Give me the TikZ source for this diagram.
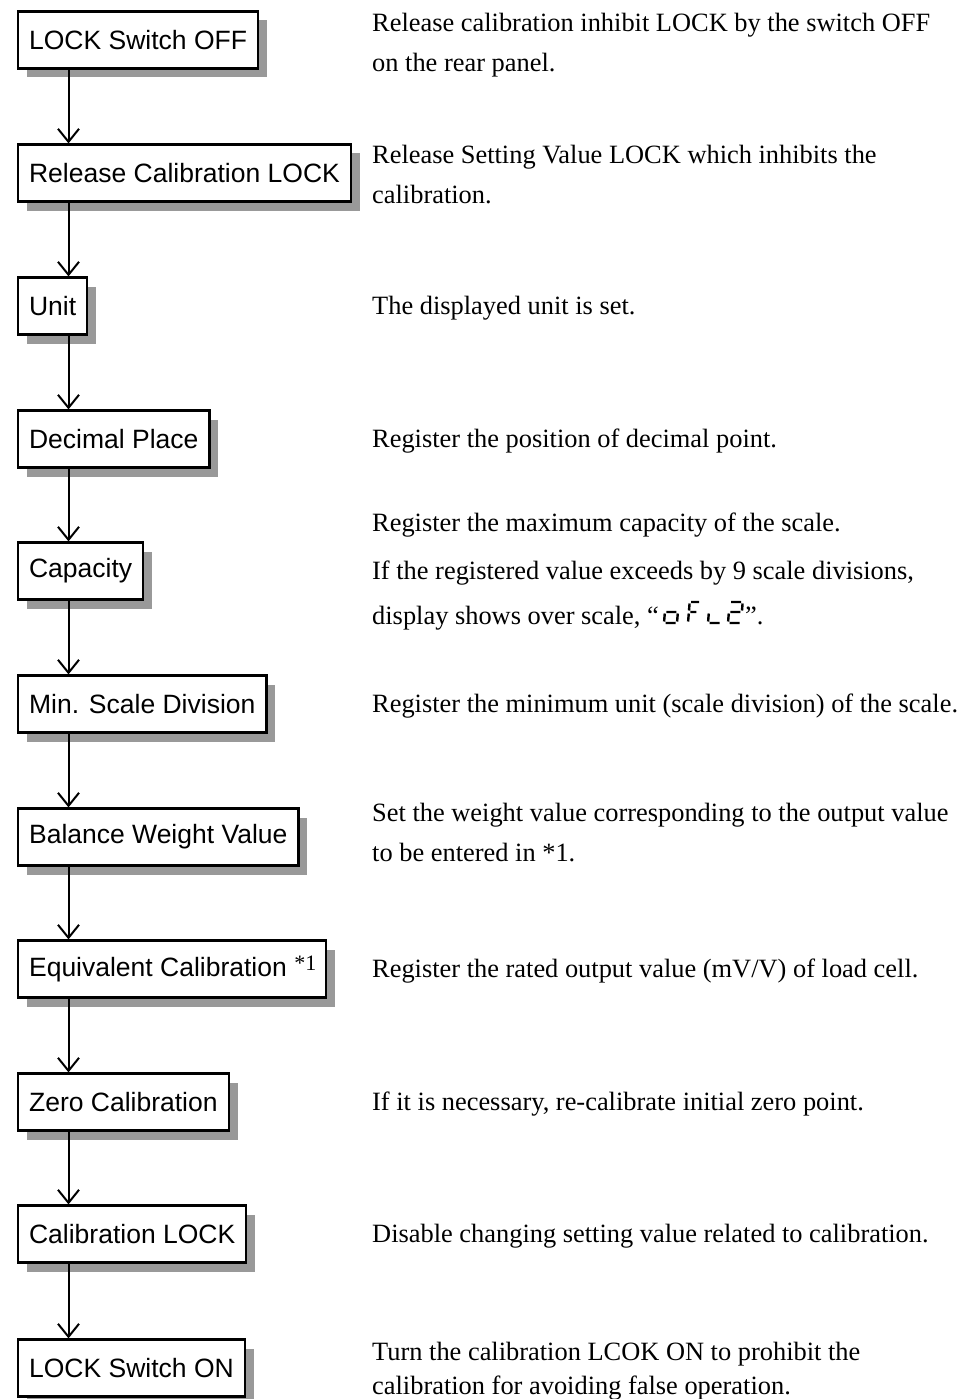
\documentclass[tikz,border=0pt]{standalone}
\usepackage{fontspec}
\setmainfont{Liberation Serif}
\newfontfamily\boxfont{Liberation Sans}
\usetikzlibrary{arrows.meta,shadows}
\begin{document}
\begin{tikzpicture}[x=1pt,y=-1pt,
 stepbox/.style={draw=black, line width=2.2pt, fill=white, anchor=west, inner xsep=11pt, inner ysep=0pt,
   minimum height=57pt, font=\boxfont\fontsize{26.5}{30}\selectfont,
   drop shadow={shadow xshift=9pt, shadow yshift=-9pt, fill=black!40, opacity=1}},
 desc/.style={anchor=base west, inner sep=0pt, font=\fontsize{26.4}{30}\selectfont},
 flow/.style={line width=2pt, -{Straight Barb[length=13pt,width=21pt,line width=2pt]}},
 segline/.style={line width=2.4pt, line cap=butt}]
\useasboundingbox (0,0) rectangle (967,1399);
\coordinate (col) at (68.5,0);
% boxes
\node[stepbox] (b1) at (17,40) {LOCK Switch OFF};
\node[stepbox] (b2) at (17,173) {Release Calibration LOCK};
\node[stepbox] (b3) at (17,306) {Unit};
\node[stepbox] (b4) at (17,439) {Decimal Place};
\node[stepbox] (b5) at (17,571) {Capacity};
\node[stepbox] (b6) at (17,704) {Min. Scale Division};
\node[stepbox] (b7) at (17,837) {Balance Weight Value};
\node[stepbox, inner xsep=10pt] (b8) at (17,969) {\hspace*{1pt}Equivalent Calibration {\rmfamily\fontsize{22}{24}\selectfont\raisebox{6.5pt}{*1}}};
\node[stepbox] (b9) at (17,1102) {Zero Calibration};
\node[stepbox] (b10) at (17,1234) {Calibration LOCK};
\node[stepbox] (b11) at (17,1368) {LOCK Switch ON};
% connectors
\foreach \a/\b in {b1/b2,b2/b3,b3/b4,b4/b5,b5/b6,b6/b7,b7/b8,b8/b9,b9/b10,b10/b11}
  \draw[flow] (\a.south -| col) -- (\b.north -| col);
% descriptions
\node[desc] (d1a) at (372,32) {Release calibration inhibit LOCK by the switch OFF};
\node[desc] (d1b) at (372,72) {on the rear panel.};
\node[desc] (d2a) at (372,164) {Release Setting Value LOCK which inhibits the};
\node[desc] (d2b) at (372,204) {calibration.};
\node[desc] (d3) at (372,314) {The displayed unit is set.};
\node[desc] (d4) at (372,447) {Register the position of decimal point.};
\node[desc] (d5a) at (372,531) {Register the maximum capacity of the scale.};
\node[desc] (d5b) at (372,579) {If the registered value exceeds by 9 scale divisions,};
\node[desc] (d5c) at (372,624) {display shows over scale, “};
\node[desc] (d5d) at (745,624) {”.};
\node[desc] (d6) at (372,712) {Register the minimum unit (scale division) of the scale.};
\node[desc] (d7a) at (372,821) {Set the weight value corresponding to the output value};
\node[desc] (d7b) at (372,861) {to be entered in *1.};
\node[desc] (d8) at (372,977) {Register the rated output value (mV/V) of load cell.};
\node[desc] (d9) at (372,1110) {If it is necessary, re-calibrate initial zero point.};
\node[desc] (d10) at (372,1242) {Disable changing setting value related to calibration.};
\node[desc] (d11a) at (372,1360) {Turn the calibration LCOK ON to prohibit the};
\node[desc] (d11b) at (372,1394) {calibration for avoiding false operation.};
% seven-segment "oFL2"
\begin{scope}[shift={(0,623)}, xslant=0.08]
  % o : c d e g
  \begin{scope}[xshift=664pt]
    \draw[segline] (1.5,-11)--(11.5,-11) (13,-9.5)--(13,-1.5) (1.5,0)--(11.5,0) (0,-9.5)--(0,-1.5);
  \end{scope}
  % F : a f g e
  \begin{scope}[xshift=688pt]
    \draw[segline] (1.5,-21)--(9.5,-21) (0,-19.5)--(0,-12.5) (1.5,-11)--(7.5,-11) (0,-9.5)--(0,-1.5);
  \end{scope}
  % L : e d
  \begin{scope}[xshift=708pt]
    \draw[segline] (0,-9.5)--(0,-1.5) (1.5,0)--(11.5,0);
  \end{scope}
  % 2 : a b g e d
  \begin{scope}[xshift=728pt]
    \draw[segline] (1.5,-21)--(11.5,-21) (13,-19.5)--(13,-12.5) (1.5,-11)--(11.5,-11) (0,-9.5)--(0,-1.5) (1.5,0)--(11.5,0);
  \end{scope}
\end{scope}
\end{tikzpicture}
\end{document}
